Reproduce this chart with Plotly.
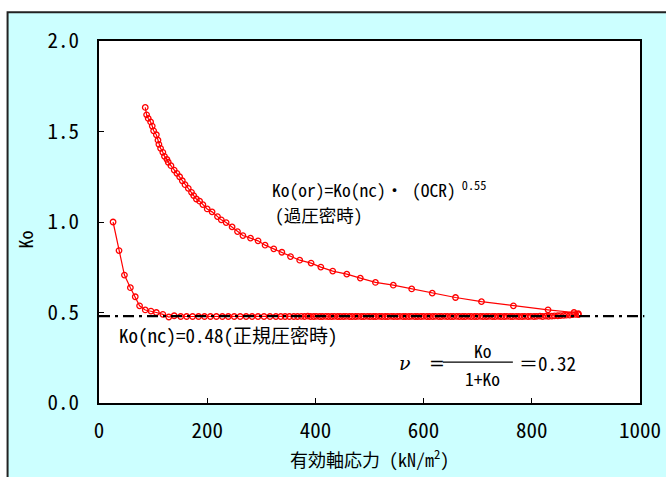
import plotly.graph_objects as go

# ---- data ----
# Ko(or) : over-consolidated curve
or_stress = [85.5, 88, 91, 95.4, 98.4, 101, 106, 109, 110.7, 113.8,
             118, 121, 125.5, 128, 133, 139, 144, 149, 154, 159,
             165, 171, 175, 180, 186, 192, 200, 209, 219, 226,
             235, 246, 256, 266, 280, 294, 307, 323, 338, 354,
             371, 392, 410, 432, 458, 483, 511, 544, 578, 616,
             659, 707, 766, 830, 878, 886]
or_ko = [1.633, 1.592, 1.572, 1.553, 1.53, 1.504, 1.482, 1.452, 1.429, 1.407,
         1.385, 1.363, 1.346, 1.33, 1.311, 1.287, 1.269, 1.25, 1.228, 1.206,
         1.186, 1.164, 1.146, 1.127, 1.115, 1.096, 1.072, 1.056, 1.03, 1.012,
         0.997, 0.973, 0.947, 0.925, 0.911, 0.896, 0.872, 0.852, 0.833, 0.809,
         0.789, 0.773, 0.751, 0.729, 0.712, 0.69, 0.666, 0.651, 0.63, 0.607,
         0.583, 0.56, 0.537, 0.515, 0.5, 0.493]

# Ko(nc) : normally consolidated curve
nc_stress = [26, 37, 47, 58, 67, 75, 85.5, 96, 106, 118,
             129, 139, 151, 162, 173, 184, 195, 206, 217, 228,
             239, 250, 261, 272, 283, 294, 305, 316, 327, 336,
             344, 352, 360, 367, 374, 380,
             386, 391, 397, 402, 408, 413, 419, 424, 430, 435,
             441, 446, 452, 457, 463, 468, 474, 479, 485, 490,
             496, 501, 507, 512, 518, 523, 529, 534, 540, 545,
             551, 556, 562, 567, 573, 578, 584, 589, 595, 600,
             606, 611, 617, 622, 628, 633, 639, 644, 650, 655,
             661, 666, 672, 677, 683, 688, 694, 699, 705, 710,
             716, 721, 727, 732, 738, 743, 749, 754, 760, 765,
             771, 776, 782, 787, 793, 798, 804, 809, 815, 820,
             826, 831, 837, 842, 848, 853, 859, 864, 870, 875,
             881, 886]
nc_ko = [1.0, 0.842, 0.707, 0.637, 0.587, 0.537, 0.514, 0.508, 0.5, 0.49,
         0.475, 0.482, 0.478, 0.478, 0.478, 0.478, 0.478, 0.478, 0.478, 0.478,
         0.478, 0.478, 0.478, 0.478, 0.478, 0.478, 0.478, 0.478, 0.478, 0.478,
         0.478, 0.478, 0.478, 0.478, 0.479, 0.478,
         0.480, 0.478, 0.478, 0.479, 0.478, 0.478, 0.479, 0.478, 0.478, 0.479,
         0.478, 0.478, 0.478, 0.479, 0.478, 0.478, 0.478, 0.479, 0.478, 0.478,
         0.479, 0.478, 0.478, 0.478, 0.479, 0.478, 0.478, 0.478, 0.479, 0.478,
         0.478, 0.479, 0.478, 0.478, 0.478, 0.479, 0.478, 0.478, 0.478, 0.479,
         0.478, 0.478, 0.478, 0.479, 0.478, 0.478, 0.479, 0.478, 0.478, 0.478,
         0.479, 0.478, 0.478, 0.478, 0.479, 0.478, 0.478, 0.478, 0.479, 0.478,
         0.478, 0.479, 0.478, 0.478, 0.479, 0.478, 0.478, 0.479, 0.478, 0.478,
         0.479, 0.478, 0.478, 0.479, 0.478, 0.479, 0.478, 0.479, 0.480, 0.478,
         0.480, 0.479, 0.480, 0.481, 0.482, 0.483, 0.484, 0.485, 0.486, 0.488,
         0.490, 0.488]

K0_NC = 0.48

x_tick_vals = [0, 200, 400, 600, 800, 1000]
x_tick_labels = ["0", "200", "400", "600", "800", "1000"]
y_tick_vals = [0.0, 0.5, 1.0, 1.5, 2.0]
y_tick_labels = ["0.0", "0.5", "1.0", "1.5", "2.0"]

JP = "Noto Sans Mono CJK JP, Noto Sans CJK JP, sans-serif"
RED = "#ff0000"

fig = go.Figure()

# background frame and plot area
fig.add_shape(type="rect", xref="paper", yref="paper",
              x0=-0.169, x1=1.3, y0=-0.4, y1=1.0791,
              fillcolor="#ccffff", line=dict(color="#222222", width=2),
              layer="below")
fig.add_shape(type="rect", xref="paper", yref="paper",
              x0=0, x1=1, y0=0, y1=1,
              fillcolor="#ffffff", line=dict(width=0), layer="below")

# reference line Ko(nc)
fig.add_shape(type="line", xref="paper", yref="y",
              x0=0, x1=1.008, y0=K0_NC, y1=K0_NC,
              line=dict(color="#000000", width=2.2, dash="11px,5px,3px,5px"),
              layer="above")

marker = dict(symbol="circle-open", size=5.5, color=RED, line=dict(width=1.3, color=RED))
fig.add_trace(go.Scatter(x=nc_stress, y=nc_ko, mode="lines+markers",
                         line=dict(color=RED, width=1.2), marker=marker,
                         showlegend=False, hoverinfo="skip"))
fig.add_trace(go.Scatter(x=or_stress, y=or_ko, mode="lines+markers",
                         line=dict(color=RED, width=1.2), marker=marker,
                         showlegend=False, hoverinfo="skip"))

fig.update_xaxes(range=[0, 1000], tickvals=x_tick_vals, ticktext=x_tick_labels,
                 showgrid=False, zeroline=False, showline=True, mirror=True,
                 linecolor="#000000", linewidth=1.5, automargin=False,
                 ticks="inside", ticklen=5, tickcolor="#000000", tickwidth=1,
                 tickfont=dict(family=JP, size=21, color="#000000"),
                 ticklabelstandoff=8, ticklabeloverflow="allow")
fig.update_yaxes(range=[0, 2], tickvals=y_tick_vals, ticktext=y_tick_labels,
                 showgrid=False, zeroline=False, showline=True, mirror=True,
                 linecolor="#000000", linewidth=1.5, automargin=False,
                 ticks="inside", ticklen=5, tickcolor="#000000", tickwidth=1,
                 tickfont=dict(family=JP, size=21, color="#000000"),
                 ticklabelstandoff=14, ticklabeloverflow="allow")

txt = dict(family=JP, size=17.5, color="#000000")
ann = [
    dict(x=316.9, y=1.182, xref="x", yref="y", xanchor="left", yanchor="middle",
         text="Ko(or)=Ko(nc)・ (OCR)<sup> 0.55</sup>", font=txt),
    dict(x=321, y=1.039, xref="x", yref="y", xanchor="left", yanchor="middle",
         text="(過圧密時)", font=txt),
    dict(x=32.7, y=0.378, xref="x", yref="y", xanchor="left", yanchor="middle",
         text="Ko(nc)=0.48(正規圧密時)", font=dict(family=JP, size=19, color="#000000")),
    dict(x=565, y=0.2235, xref="x", yref="y", xanchor="center", yanchor="middle",
         text="<i>ν</i>", font=dict(family="DejaVu Serif", size=19, color="#000000")),
    dict(x=625.4, y=0.2235, xref="x", yref="y", xanchor="center", yanchor="middle",
         text="=", font=dict(family="DejaVu Serif", size=19, color="#000000")),
    dict(x=709.6, y=0.2922, xref="x", yref="y", xanchor="center", yanchor="middle",
         text="Ko", font=txt),
    dict(x=709.6, y=0.135, xref="x", yref="y", xanchor="center", yanchor="middle",
         text="1+Ko", font=txt),
    dict(x=772.6, y=0.2235, xref="x", yref="y", xanchor="left", yanchor="middle",
         text="＝0.32", font=dict(family=JP, size=19, color="#000000")),
    dict(x=0.5, y=-0.1507, xref="paper", yref="paper", xanchor="center", yanchor="middle",
         text="有効軸応力 (kN/m<sup>2</sup>)", font=dict(family=JP, size=18, color="#000000")),
    dict(x=-0.1376, y=0.4507, xref="paper", yref="paper", xanchor="center", yanchor="middle",
         text="Ko", textangle=-90, font=dict(family=JP, size=18, color="#000000")),
]
for a in ann:
    a["showarrow"] = False
    fig.add_annotation(**a)

# fraction bar
fig.add_shape(type="line", xref="x", yref="y", x0=635.6, x1=765, y0=0.226, y1=0.226,
              line=dict(color="#000000", width=1.2))

fig.update_layout(width=666, height=477,
                  margin=dict(l=99, r=26, t=41, b=74, autoexpand=False),
                  paper_bgcolor="#ffffff", plot_bgcolor="rgba(0,0,0,0)")

fig.write_html("out.html")
